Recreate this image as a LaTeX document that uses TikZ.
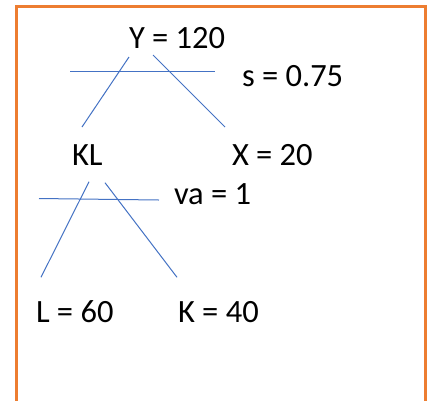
\documentclass[tikz,border=0pt]{standalone}
\usepackage{fontspec}
\setmainfont{Carlito}
\definecolor{frameorange}{HTML}{ED7D31}
\definecolor{lineblue}{HTML}{4472C4}
\begin{document}
\begin{tikzpicture}[x=1pt,y=-1pt,
  lbl/.style={anchor=base west,inner sep=0pt,outer sep=0pt,font=\fontsize{32.5}{38}\selectfont},
  tree/.style={draw=lineblue,line width=1pt},
  bar/.style={draw=lineblue,line width=1.4pt}]
\useasboundingbox (0,0) rectangle (431,400);
\clip (0,0) rectangle (431,400);
\fill[white] (0,0) rectangle (431,400);
\draw[frameorange,line width=3pt] (16.5,6) rectangle (425,430);
% texts
\node[lbl] (Y) at (129,48) {Y = 120};
\node[lbl] (s) at (242,86) {s = 0.75};
\node[lbl] (KL) at (72,165) {KL};
\node[lbl] (X) at (232,165) {X = 20};
\node[lbl] (va) at (174,204) {va = 1};
\node[lbl] (L) at (36,322) {L = 60};
\node[lbl] (K) at (178,322) {K = 40};
% line end points
\coordinate (y1) at (129,57);
\coordinate (y2) at (153,55);
\coordinate (a1) at (82,127);
\coordinate (a2) at (225,127);
\coordinate (b1) at (70,71.3);
\coordinate (b2) at (215,71.3);
\coordinate (k1) at (89,181.7);
\coordinate (k2) at (105,182.7);
\coordinate (c1) at (41,277.3);
\coordinate (c2) at (177,277.3);
\coordinate (d1) at (39,198.5);
\coordinate (d2) at (159,200);
\draw[tree] (y1) -- (a1);
\draw[tree] (y2) -- (a2);
\draw[bar] (b1) -- (b2);
\draw[tree] (k1) -- (c1);
\draw[tree] (k2) -- (c2);
\draw[tree] (d1) -- (d2);
\end{tikzpicture}
\end{document}
